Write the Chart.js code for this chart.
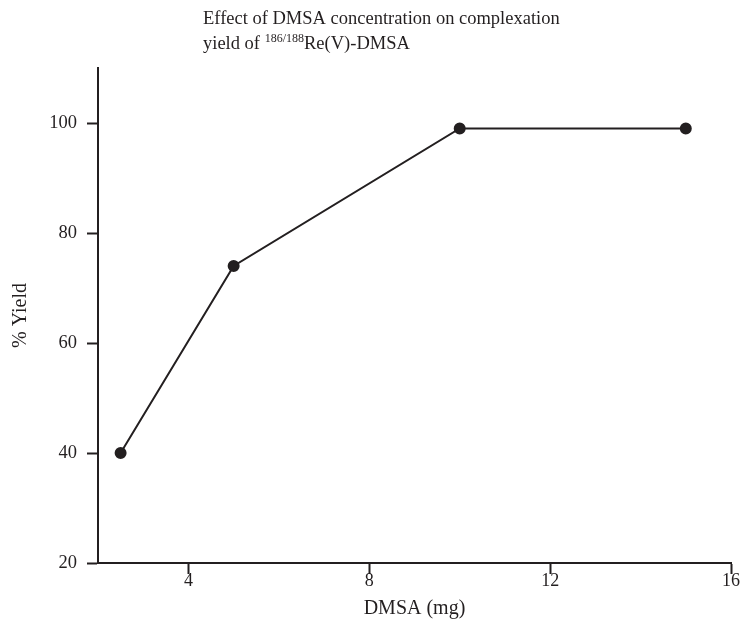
<!DOCTYPE html>
<html>
<head>
<meta charset="utf-8">
<script src="https://cdn.jsdelivr.net/npm/chart.js@4.4.1/dist/chart.umd.min.js"></script>
<style>
  html, body { margin: 0; padding: 0; background: #fff; }
  #wrap { width: 741px; height: 643px; }
</style>
</head>
<body>
<div id="wrap"><canvas id="canvas" width="741" height="643"></canvas></div>
<script>
// data
var dmsa = [2.5, 5, 10, 15];
var yieldPct = [40, 74, 99, 99];
var xTicks = [4, 8, 12, 16];
var yTicks = [20, 40, 60, 80, 100];

var ink = '#231f20';
var serif = "'Liberation Serif', 'Times New Roman', serif";

// title with the 186/188 superscript, drawn straight on the canvas
var titlePlugin = {
  id: 'supTitle',
  afterDraw: function(chart){
    var ctx = chart.ctx;
    var x = 203;
    ctx.save();
    ctx.fillStyle = ink;
    ctx.textBaseline = 'alphabetic';
    ctx.textAlign = 'left';
    ctx.font = '18.5px ' + serif;
    ctx.fillText('Effect of DMSA concentration on complexation', x, 24);
    var first = 'yield of ';
    ctx.fillText(first, x, 49);
    x += ctx.measureText(first).width;
    ctx.font = '12px ' + serif;
    ctx.fillText('186/188', x, 42);
    x += ctx.measureText('186/188').width;
    ctx.font = '18.5px ' + serif;
    ctx.fillText('Re(V)-DMSA', x, 49);
    ctx.restore();
  }
};

var config = {
  type: 'scatter',
  data: {
    datasets: [{
      data: dmsa.map(function(v, i){ return {x: v, y: yieldPct[i]}; }),
      showLine: true,
      borderColor: ink,
      borderWidth: 2,
      pointBackgroundColor: ink,
      pointBorderColor: ink,
      pointRadius: 5,
      pointHoverRadius: 5
    }]
  },
  options: {
    responsive: false,
    animation: false,
    layout: { padding: { top: 68, right: 10, left: 0, bottom: 0 } },
    plugins: {
      legend: { display: false },
      tooltip: { enabled: false },
      title: { display: false }
    },
    scales: {
      x: {
        type: 'linear',
        min: 2,
        max: 16,
        afterBuildTicks: function(axis){
          axis.ticks = xTicks.map(function(v){ return {value: v}; });
        },
        afterFit: function(axis){ axis.height = 80; },
        border: { display: true, color: ink, width: 2 },
        grid: { drawOnChartArea: false, drawTicks: true, tickLength: 11, tickWidth: 2, tickColor: ink },
        ticks: { color: ink, font: { family: serif, size: 18 }, padding: -4, maxRotation: 0 },
        title: { display: true, text: 'DMSA (mg)', color: ink, font: { family: serif, size: 20 }, padding: { top: 0, bottom: 22 } }
      },
      y: {
        type: 'linear',
        min: 20,
        max: 110,
        afterBuildTicks: function(axis){
          axis.ticks = yTicks.map(function(v){ return {value: v}; });
        },
        afterFit: function(axis){ axis.width = 98; },
        border: { display: true, color: ink, width: 2 },
        grid: { drawOnChartArea: false, drawTicks: true, tickLength: 11, tickWidth: 2, tickColor: ink },
        ticks: { color: ink, font: { family: serif, size: 18.5 }, padding: 10 },
        title: { display: true, text: '% Yield', color: ink, font: { family: serif, size: 20 }, padding: { top: 9, bottom: 0 } }
      }
    }
  },
  plugins: [titlePlugin]
};

new Chart(document.getElementById('canvas'), config);
</script>
</body>
</html>
